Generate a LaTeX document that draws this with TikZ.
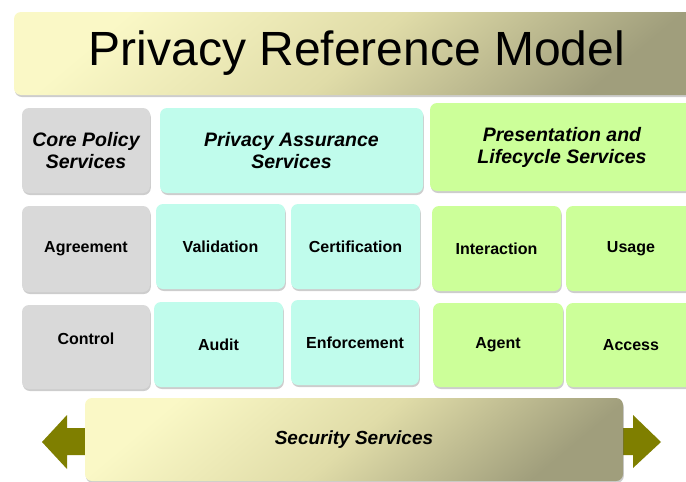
\documentclass[tikz,border=0pt]{standalone}
\usepackage{fontspec}
\setmainfont{Liberation Sans}
\usetikzlibrary{shadows}
\definecolor{cgray}{HTML}{D9D9D9}
\definecolor{caqua}{HTML}{C0FCEC}
\definecolor{cgreen}{HTML}{CCFF99}
\definecolor{ylight}{HTML}{FAF8C6}
\definecolor{ymid}{HTML}{E0DCA8}
\definecolor{ydark}{HTML}{A09E7C}
\definecolor{olive}{HTML}{7F7F00}
\tikzset{
  softshadow/.style={drop shadow={shadow xshift=0.8pt, shadow yshift=-2pt, opacity=0.28, fill=black!70}},
  box/.style={rounded corners=7pt, inner sep=0pt, align=center, softshadow},
  cell/.style={box, font=\bfseries\fontsize{16}{19}\selectfont},
  head/.style={box, font=\bfseries\itshape\fontsize{19.5}{22}\selectfont},
  gold/.style={rounded corners=7pt, inner sep=0pt,
    top color=ylight, bottom color=ydark, middle color=ymid, shading angle=40, softshadow},
  arrowshape/.style={fill=olive, draw=none},
}
\begin{document}
\begin{tikzpicture}[x=1pt,y=-1pt]
\useasboundingbox (0,0) rectangle (686,482);
\clip (0,0) rectangle (686,482);
% title
\node[gold, minimum width=686pt, minimum height=83pt, font=\fontsize{48}{54}\selectfont] (title) at (357,53.5) {Privacy Reference Model};
% headers
\node[head, fill=cgray, minimum width=128pt, minimum height=85pt] (core) at (86,150.5) {Core Policy\\Services};
\node[head, fill=caqua, minimum width=263pt, minimum height=85pt] (pas) at (291.5,150.5) {Privacy Assurance\\Services};
\node[head, fill=cgreen, minimum width=264pt, minimum height=88pt] (pls) at (562,147) {Presentation and\\Lifecycle Services};
% row 2
\node[cell, fill=cgray, minimum width=128pt, minimum height=86pt] (agr) at (86,249) {Agreement};
\node[cell, fill=caqua, minimum width=129pt, minimum height=85pt] (val) at (220.5,246.5) {Validation};
\node[cell, fill=caqua, minimum width=129pt, minimum height=85pt] (cert) at (355.5,246.5) {Certification};
\node[cell, fill=cgreen, minimum width=129pt, minimum height=85pt] (inter) at (496.5,248.5) {Interaction};
\node[cell, fill=cgreen, minimum width=130pt, minimum height=85pt] (usage) at (631,248.5) {Usage};
% row 3
\node[cell, fill=cgray, minimum width=128pt, minimum height=84pt,
  label={[font=\bfseries\fontsize{16}{19}\selectfont, yshift=8pt]center:Control}] (ctrl) at (86,347) {};
\node[cell, fill=caqua, minimum width=129pt, minimum height=85pt] (audit) at (218.5,344.5) {Audit};
\node[cell, fill=caqua, minimum width=128pt, minimum height=85pt] (enf) at (355,342.5) {Enforcement};
\node[cell, fill=cgreen, minimum width=130pt, minimum height=84pt] (agent) at (498,345) {Agent};
\node[cell, fill=cgreen, minimum width=130pt, minimum height=84pt] (access) at (631,345) {Access};
% security arrows
\fill[arrowshape] (90,428) -- (67,428) -- (67,415) -- (42,442) -- (67,469) -- (67,455) -- (90,455) -- cycle;
\fill[arrowshape] (618,428) -- (633,428) -- (633,415) -- (661,442) -- (633,468) -- (633,455) -- (618,455) -- cycle;
\node[gold, minimum width=538pt, minimum height=83pt, font=\bfseries\itshape\fontsize{19}{22}\selectfont] (sec) at (354,439.5) {Security Services};
\end{tikzpicture}
\end{document}
